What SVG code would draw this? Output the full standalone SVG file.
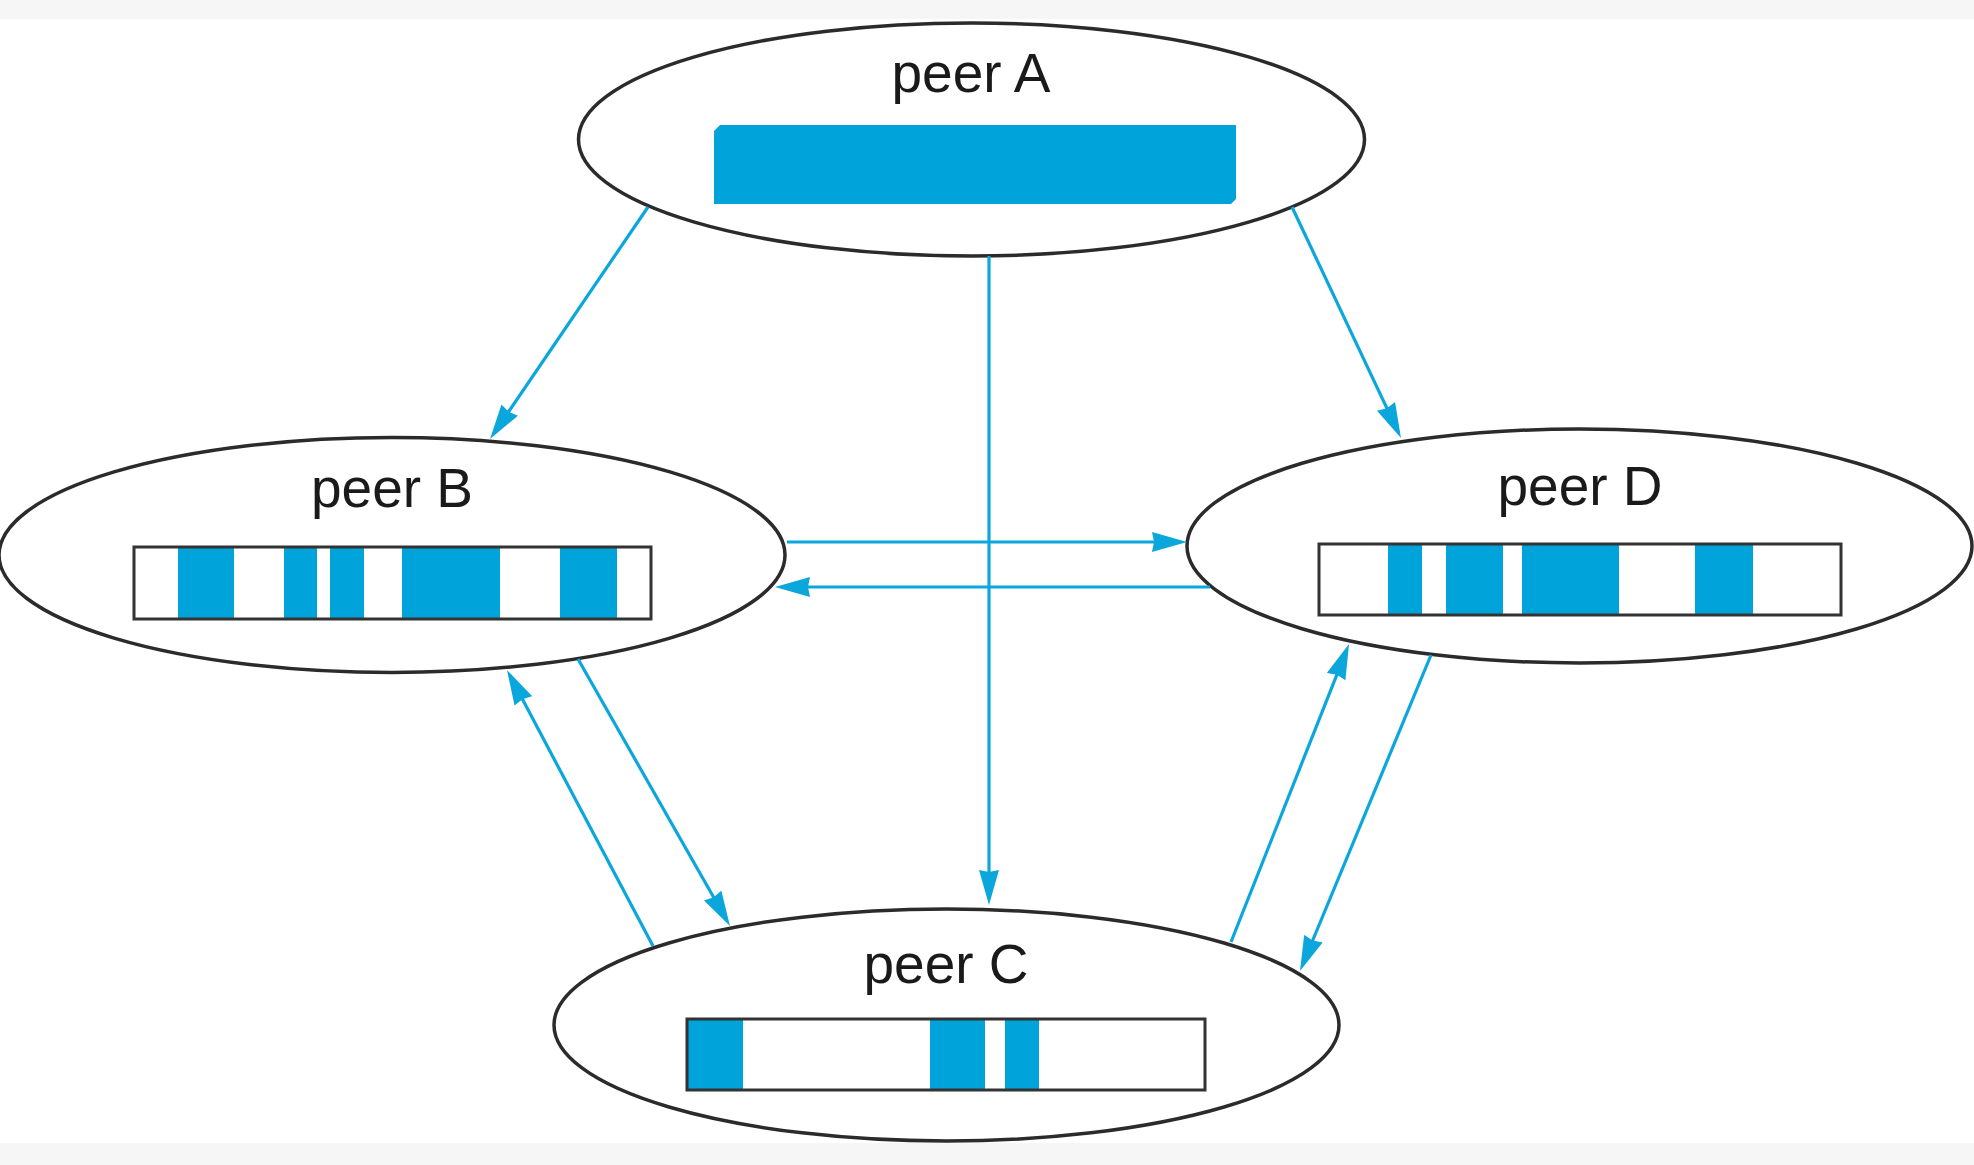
<svg xmlns="http://www.w3.org/2000/svg" width="1974" height="1165" viewBox="0 0 1974 1165">
<style>
.band{fill:#f6f6f6}
.peer{fill:#ffffff;stroke:#2b2b2b;stroke-width:3.5}
.lbl{font-family:"Liberation Sans",Arial,Helvetica,sans-serif;font-size:55px;fill:#1a1a1a;text-anchor:middle}
.box{fill:none;stroke:#333333;stroke-width:3}
.seg{fill:#00A3DA}
.conn{stroke:#0AA6DC;stroke-width:3.2;fill:none;marker-end:url(#ah)}
</style>
<defs>
<marker id="ah" markerUnits="userSpaceOnUse" markerWidth="35" markerHeight="20" viewBox="0 0 35 20" refX="29" refY="10" orient="auto">
<path d="M0,0 L35,10 L0,20 L2,10 z" fill="#0AA6DC"/>
</marker>
</defs>
<rect class="band" x="0" y="0" width="1974" height="19"/>
<rect class="band" x="0" y="1143" width="1974" height="22"/>

<g id="peerA">
<ellipse class="peer" cx="971.5" cy="139.5" rx="393" ry="116.5"/>
<text class="lbl" x="971" y="92">peer A</text>
<polygon class="seg" points="720,125 1236,125 1236,199 1231,204 714,204 714,131"/>
</g>

<g id="peerB">
<ellipse class="peer" cx="392" cy="555" rx="393" ry="117.5"/>
<text class="lbl" x="392" y="507">peer B</text>
<rect class="seg" x="178" y="547" width="56" height="72"/>
<rect class="seg" x="284" y="547" width="33" height="72"/>
<rect class="seg" x="330" y="547" width="34" height="72"/>
<rect class="seg" x="402" y="547" width="98" height="72"/>
<rect class="seg" x="560" y="547" width="57" height="72"/>
<rect class="box" x="134" y="547" width="517" height="72"/>
</g>

<g id="peerD">
<ellipse class="peer" cx="1579.5" cy="546" rx="392.5" ry="117"/>
<text class="lbl" x="1580" y="505">peer D</text>
<rect class="seg" x="1388" y="544" width="34" height="71"/>
<rect class="seg" x="1446" y="544" width="57" height="71"/>
<rect class="seg" x="1522" y="544" width="97" height="71"/>
<rect class="seg" x="1695" y="544" width="58" height="71"/>
<rect class="box" x="1319" y="544" width="522" height="71"/>
</g>

<g id="peerC">
<ellipse class="peer" cx="946.5" cy="1025" rx="392.5" ry="116"/>
<text class="lbl" x="946" y="983">peer C</text>
<rect class="seg" x="687" y="1019" width="56" height="71"/>
<rect class="seg" x="930" y="1019" width="55" height="71"/>
<rect class="seg" x="1005" y="1019" width="34" height="71"/>
<rect class="box" x="687" y="1019" width="518" height="71"/>
</g>

<g id="connectors">
<line class="conn" x1="648" y1="207" x2="493.4" y2="434"/>
<line class="conn" x1="989" y1="256" x2="989" y2="899"/>
<line class="conn" x1="1292" y1="207" x2="1398.4" y2="432.6"/>
<line class="conn" x1="787" y1="542" x2="1181" y2="542"/>
<line class="conn" x1="1210" y1="587" x2="781" y2="587"/>
<line class="conn" x1="578" y1="659" x2="727" y2="920.8"/>
<line class="conn" x1="653" y1="946" x2="509.8" y2="675.3"/>
<line class="conn" x1="1231" y1="942" x2="1346.8" y2="649.6"/>
<line class="conn" x1="1431" y1="655" x2="1302.3" y2="965.5"/>
</g>
</svg>
